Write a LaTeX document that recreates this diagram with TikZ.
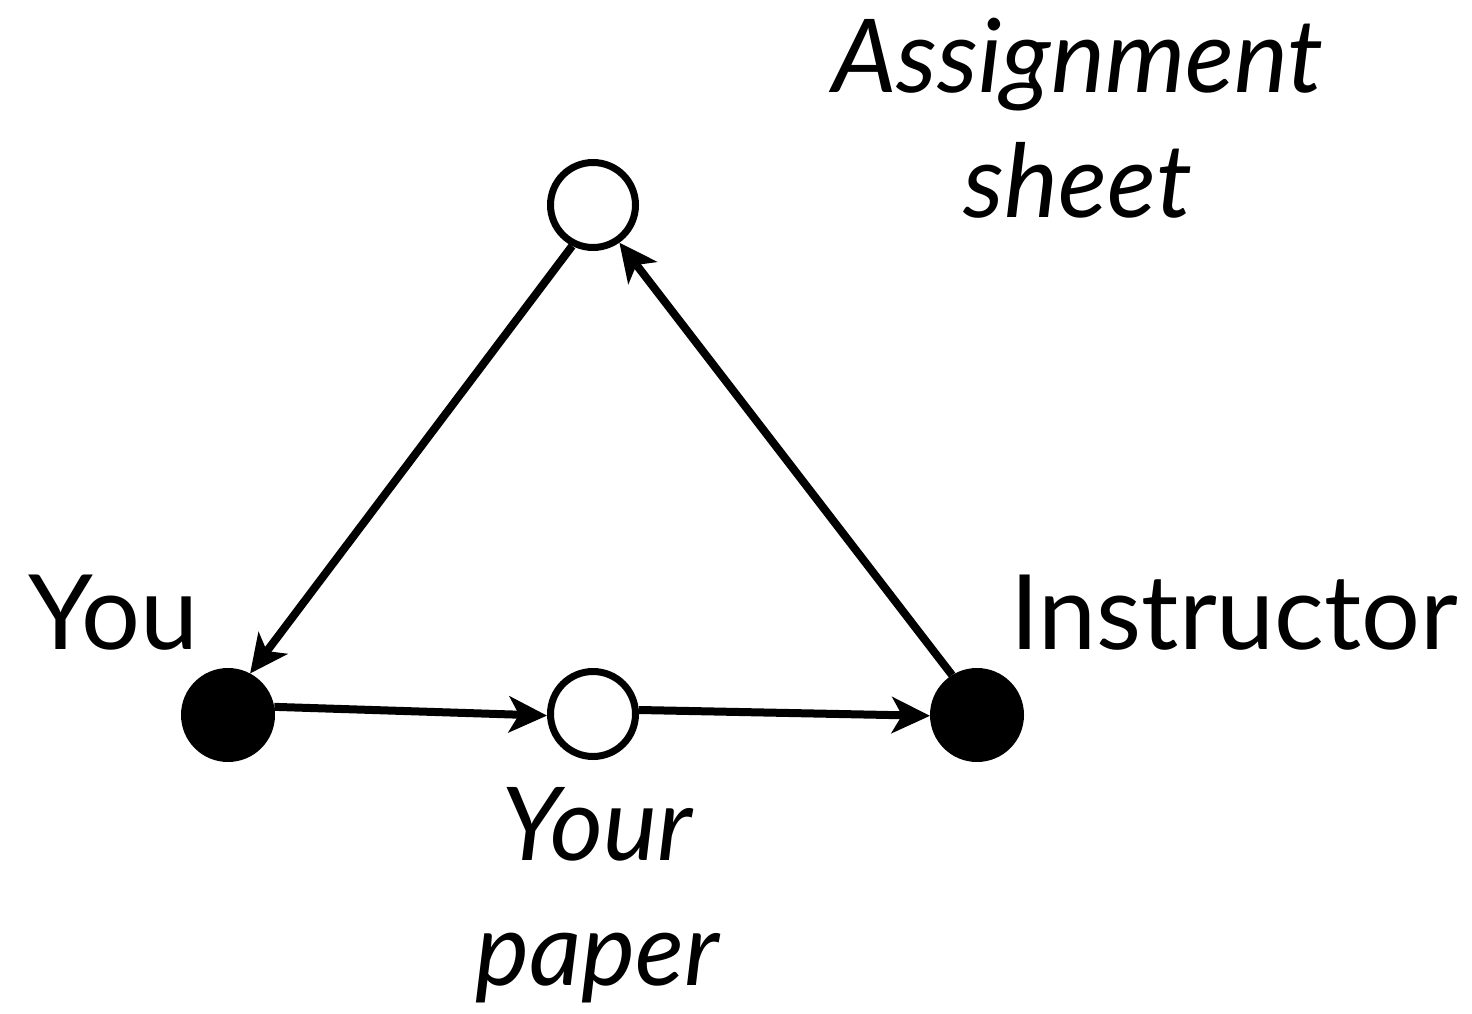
\documentclass[tikz,border=0pt]{standalone}
\usepackage{fontspec}
\setmainfont{Lato}
\usetikzlibrary{arrows.meta}
\begin{document}
\begin{tikzpicture}[x=1pt,y=-1pt,
  filled/.style={circle,fill=black,minimum size=94pt,inner sep=0pt,outer sep=0pt},
  hollow/.style={circle,draw=black,line width=7pt,fill=white,minimum size=85pt,inner sep=0pt},
  conn/.style={line width=8pt,-{Stealth[length=38pt,width=36pt,inset=10pt]}},
  lbl/.style={font=\fontsize{104}{125}\selectfont,inner sep=0pt},
  ilbl/.style={font=\fontsize{102}{125}\selectfont\itshape,inner sep=0pt,align=center}]
\useasboundingbox (0,0) rectangle (1472,1014);
\node[filled] (you) at (228,715) {};
\node[filled] (instr) at (977,715) {};
\node[hollow] (asg) at (593,205) {};
\node[hollow] (paper) at (593,714) {};
\node[lbl,anchor=base west] (youlbl) at (28,649) {You};
\node[lbl,anchor=base west] (instrlbl) at (1010,649) {Instructor};
\node[ilbl,anchor=base] (asglbl) at (1078,217) {Assignment\\sheet};
\node[ilbl,anchor=base] (paperlbl) at (597,985) {Your\\paper};
\draw[conn] (you.10) -- (paper.182);
\draw[conn] (paper.5) -- (instr.181);
\draw[conn] (instr.122) -- (asg.305);
\draw[conn] (asg.243) -- (you.62);
\end{tikzpicture}
\end{document}
